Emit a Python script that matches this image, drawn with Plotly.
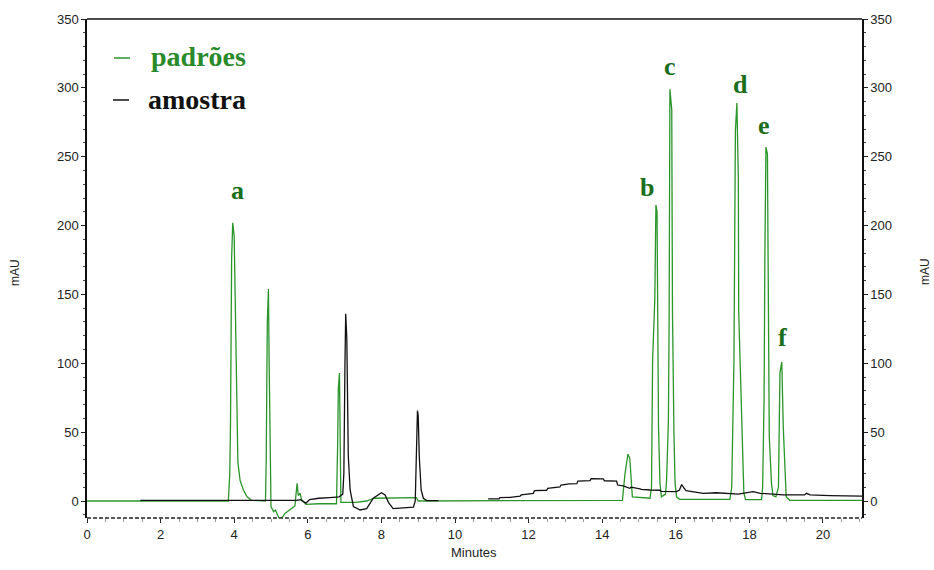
import plotly.graph_objects as go

# --- chromatogram traces (time in minutes, absorbance in mAU) ---
padroes_t = [0.00, 3.84, 3.88, 3.90, 3.93, 3.96, 4.00, 4.04, 4.07, 4.10, 4.16, 4.25, 4.35, 4.47,
             4.85, 4.87, 4.90, 4.93, 4.95, 4.98, 5.00, 5.07, 5.12, 5.24, 5.29, 5.38, 5.52, 5.65,
             5.68, 5.71, 5.74, 5.79, 5.83, 5.95, 6.30, 6.78, 6.81, 6.83, 6.86, 6.88, 6.90, 7.30,
             7.60, 7.80, 8.50, 8.95, 9.00, 11.75, 12.90, 14.55, 14.62, 14.70, 14.75, 14.82, 15.30,
             15.34, 15.37, 15.43, 15.46, 15.49, 15.53, 15.57, 15.61, 15.72, 15.75, 15.80, 15.82,
             15.83, 15.84, 15.89, 15.91, 15.95, 15.98, 16.02, 16.10, 17.47, 17.52, 17.58, 17.62,
             17.66, 17.70, 17.71, 17.77, 17.81, 17.85, 17.90, 18.33, 18.36, 18.40, 18.42, 18.45,
             18.49, 18.52, 18.54, 18.60, 18.64, 18.72, 18.79, 18.83, 18.88, 18.92, 18.97, 19.00,
             19.10, 21.06]
padroes_v = [0.0, 0.0, 20, 57, 176, 202, 192, 124, 59, 28, 15, 8, 3, 0.5,
             0.0, 30, 130, 154, 100, 20, -4, -7.7, -6.5, -13.8, -12.6, -9, -6.5, -3.6,
             5, 12.8, 4, 5.8, 1, -2.5, -2, -2, 40, 82, 93, 40, -1, -1,
             0, 2, 2.5, 2.5, 0, 0, 0.5, 0.5, 20, 34, 31, 3, 2,
             10, 102, 147, 215, 210, 54, 13, 3, 5, 15, 59, 137,
             231, 299, 284, 137, 49, 13, 3, 1.2, 1.2, 10, 102, 269,
             289, 234, 137, 78, 33, 5.6, 1, 1, 10, 76, 177, 257,
             252, 134, 47, 13, 4, 3, 10, 93, 101, 54, 18, 3,
             0.5, 0.5]

amostra_t = [1.45, 3.84, 4.50, 5.70, 5.80, 5.95, 6.05, 6.30, 6.60, 6.85, 6.95, 6.98, 7.01, 7.03,
             7.06, 7.08, 7.10, 7.15, 7.24, 7.42, 7.60, 7.78, 8.00, 8.10, 8.19, 8.32, 8.87, 8.92,
             8.95, 8.98, 9.00, 9.03, 9.08, 9.14, 9.23, 9.55, None,
             10.90, 11.20, 11.22, 11.50, 11.77, 11.80, 12.13, 12.16, 12.49, 12.52, 12.85, 12.88,
             13.10, 13.31, 13.34, 13.67, 13.70, 14.03, 14.06, 14.39, 14.42, 14.57, 14.75, 14.78,
             15.03, 15.06, 15.30, 15.57, 15.60, 16.02, 16.10, 16.16, 16.22, 16.28, 16.40, 16.75,
             17.10, 17.47, 17.70, 18.10, 18.30, 18.92, 19.50, 19.55, 19.65, 20.19, 20.60, 21.06]
amostra_v = [0.4, 0.4, 0.4, 0.5, 1, -1.5, 1, 2, 2.5, 3, 5, 20, 100, 136,
             118, 60, 33, 8, -4, -6.5, -5.5, 2, 6, 4.4, -1, -5.5, -4.4, 0,
             30, 65.6, 62, 32, 8, 2, 0.3, 0.3, None,
             1.5, 1.6, 2.4, 2.6, 3.6, 4.4, 5.6, 7.5, 7.8, 9.2, 10.2, 11.6,
             12.4, 12.6, 14.5, 14.8, 16.2, 16.0, 14.7, 14.5, 11.6, 11.0, 9.2, 10.0,
             8.8, 8.4, 8.0, 7.8, 7.0, 6.8, 8, 12, 9.5, 7.5, 7, 5.6,
             6.0, 5.6, 5, 6.8, 5.6, 4.4, 4.4, 5.6, 4.4, 3.9, 3.9, 3.6]

# peak labels and where they sit (minutes, mAU)
peak_names = ["a", "b", "c", "d", "e", "f"]
peak_label_t = [4.10, 15.22, 15.84, 17.75, 18.40, 18.91]
peak_label_v = [225.8, 228.0, 315.2, 302.8, 273.0, 118.4]

x_ticks = list(range(0, 21, 2))
y_ticks = list(range(0, 351, 50))

GREEN = "#2a962a"
LABEL_GREEN = "#1b6e1b"
TICK_FONT = dict(family="Liberation Sans, Arial, sans-serif", size=13, color="#222222")

fig = go.Figure()
fig.add_trace(go.Scatter(x=padroes_t, y=padroes_v, mode="lines", name="padrões",
                         line=dict(color=GREEN, width=1.3), showlegend=False))
fig.add_trace(go.Scatter(x=amostra_t, y=amostra_v, mode="lines", name="amostra",
                         line=dict(color="#111111", width=1.3, shape="linear"),
                         showlegend=False, connectgaps=False))
# empty trace that carries the mirrored right-hand axis
fig.add_trace(go.Scatter(x=[None], y=[None], yaxis="y2", showlegend=False, hoverinfo="skip"))

for name, t, v in zip(peak_names, peak_label_t, peak_label_v):
    fig.add_annotation(x=t, y=v, text=f"<b>{name}</b>", showarrow=False,
                       xanchor="center", yanchor="middle",
                       font=dict(family="Liberation Serif, Times New Roman, serif",
                                 size=26, color=LABEL_GREEN))

# legend drawn as short strokes plus bold serif captions
legend_font = dict(family="Liberation Serif, Times New Roman, serif", size=28)
fig.add_shape(type="line", xref="paper", yref="paper", x0=0.0348, x1=0.0555,
              y0=0.9218, y1=0.9218, line=dict(color=GREEN, width=1.5))
fig.add_shape(type="line", xref="paper", yref="paper", x0=0.0335, x1=0.0542,
              y0=0.8377, y1=0.8377, line=dict(color="#111111", width=1.5))
fig.add_annotation(xref="paper", yref="paper", x=0.0800, y=0.924, text="<b>padrões</b>",
                   showarrow=False, xanchor="left", yanchor="middle",
                   font=dict(color="#2a8a2a", **legend_font))
fig.add_annotation(xref="paper", yref="paper", x=0.0762, y=0.838, text="<b>amostra</b>",
                   showarrow=False, xanchor="left", yanchor="middle",
                   font=dict(color="#111111", **legend_font))

# axis titles
axis_title_font = dict(family="Liberation Sans, Arial, sans-serif", size=12, color="#222222")
fig.add_annotation(xref="paper", yref="paper", x=0.4994, y=-0.088, text="Minutes",
                   showarrow=False, xanchor="center", font=dict(axis_title_font, size=13))
fig.add_annotation(xref="paper", yref="paper", x=-0.093, y=0.493, text="mAU", textangle=-90,
                   showarrow=False, xanchor="center", yanchor="middle", font=axis_title_font)
fig.add_annotation(xref="paper", yref="paper", x=1.0813, y=0.493, text="mAU", textangle=-90,
                   showarrow=False, xanchor="center", yanchor="middle", font=axis_title_font)

# frame: solid top edge, dashed bottom edge
fig.add_shape(type="line", xref="paper", yref="paper", x0=0, x1=1, y0=1, y1=1,
              line=dict(color="#111111", width=1.5))
fig.add_shape(type="line", xref="paper", yref="paper", x0=0, x1=1, y0=0, y1=0,
              line=dict(color="#222222", width=1.5, dash="4px,2px"))

yaxis_common = dict(
    range=[-12.34, 350], tickvals=y_ticks, ticks="outside", ticklen=4, tickwidth=1,
    tickcolor="#222222", showline=True, linecolor="#111111", linewidth=1.5,
    showgrid=False, zeroline=False, tickfont=TICK_FONT,
    minor=dict(dtick=10, ticks="outside", ticklen=2, tickcolor="#444444"),
)

fig.update_layout(
    width=934, height=570,
    margin=dict(l=87, r=72, t=19, b=52),
    paper_bgcolor="white", plot_bgcolor="white",
    xaxis=dict(range=[0, 21.06], tickvals=x_ticks, ticks="outside", ticklen=4,
               tickcolor="#222222", showline=False, showgrid=False, zeroline=False,
               tickfont=TICK_FONT,
               minor=dict(dtick=0.5, ticks="outside", ticklen=3, tickcolor="#999999")),
    yaxis=dict(side="left", **yaxis_common),
    yaxis2=dict(side="right", overlaying="y", matches="y", anchor="x", **yaxis_common),
)

fig.write_html("out.html")
